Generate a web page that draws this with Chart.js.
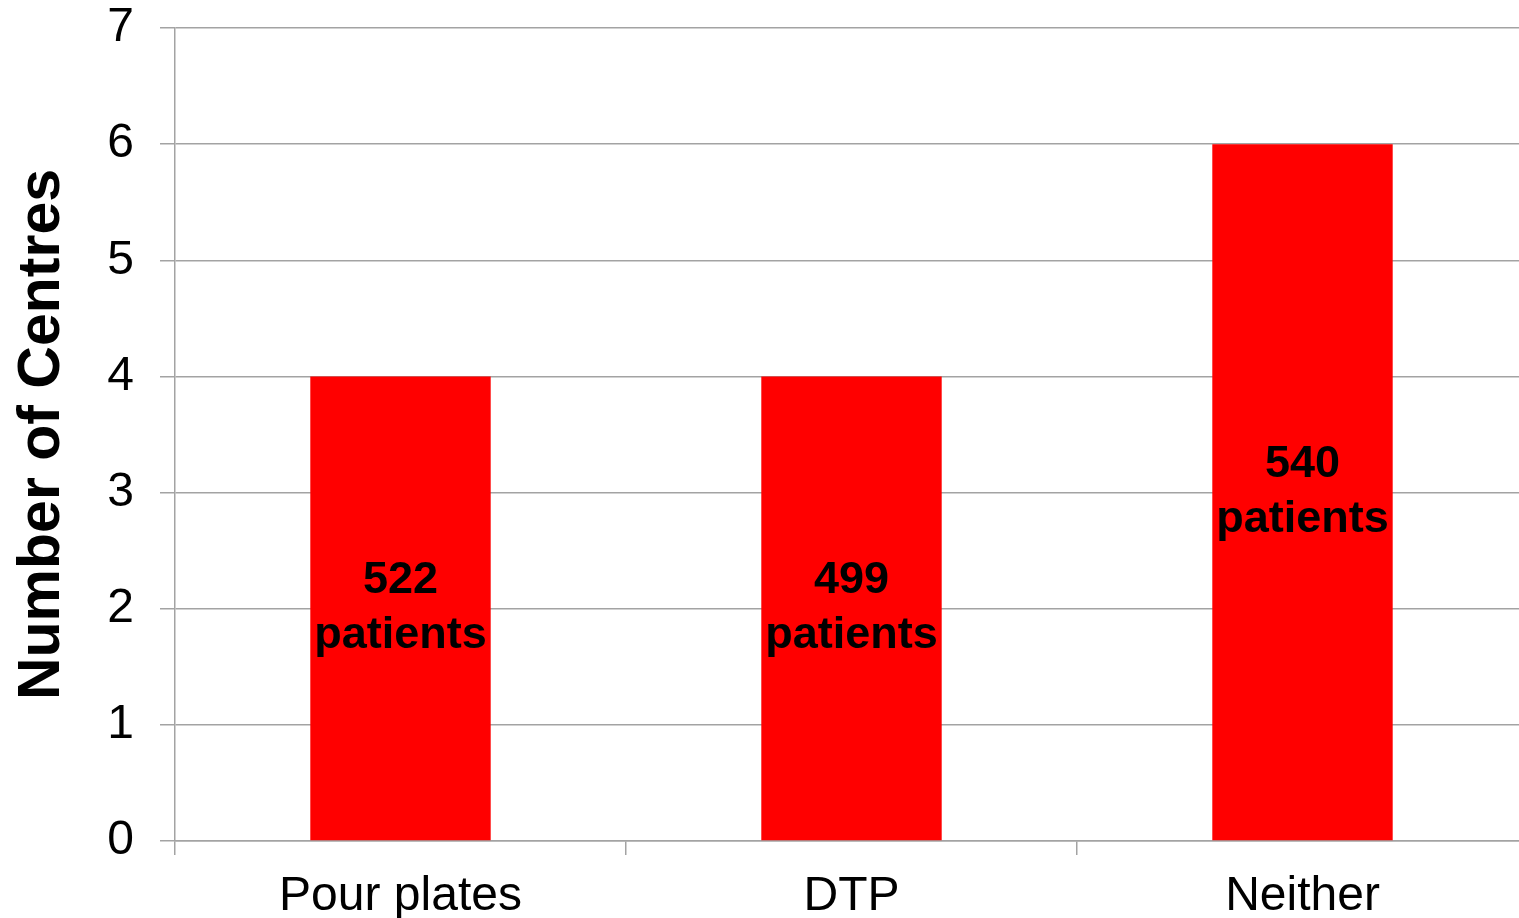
<!DOCTYPE html>
<html>
<head>
<meta charset="utf-8">
<title>Number of Centres</title>
<script src="https://cdn.jsdelivr.net/npm/chart.js@4/dist/chart.umd.min.js"></script>
<style>
  html, body { margin: 0; padding: 0; background: #ffffff; }
  /* plot runs slightly past the right edge of the frame */
  #wrap { width: 1519px; height: 918px; overflow: hidden; }
  #chart { display: block; }
</style>
</head>
<body>
<div id="wrap"><canvas id="chart" width="1528" height="918"></canvas></div>
<script>
// Categories and values
const categories = ['Pour plates', 'DTP', 'Neither'];
const centres = [4, 4, 6];
const patients = [522, 499, 540];
const yTicks = [0, 1, 2, 3, 4, 5, 6, 7];

const FONT = '"Liberation Sans", Arial, Helvetica, sans-serif';
const GRID = '#a3a3a3';

// Writes "<n> patients" in the middle of each bar
const barLabels = {
  id: 'barLabels',
  afterDatasetsDraw(chart) {
    const { ctx } = chart;
    const meta = chart.getDatasetMeta(0);
    ctx.save();
    ctx.font = 'bold 45px ' + FONT;
    ctx.fillStyle = '#000000';
    ctx.textAlign = 'center';
    ctx.textBaseline = 'middle';
    meta.data.forEach((bar, i) => {
      const cy = (bar.y + bar.base) / 2;
      const lh = 55;
      ctx.fillText(String(patients[i]), bar.x, cy - lh / 2);
      ctx.fillText('patients', bar.x, cy + lh / 2);
    });
    ctx.restore();
  }
};

new Chart(document.getElementById('chart'), {
  type: 'bar',
  data: {
    labels: categories,
    datasets: [{
      data: centres,
      backgroundColor: '#ff0000',
      borderWidth: 0,
      categoryPercentage: 1.0,
      barPercentage: 0.4
    }]
  },
  options: {
    responsive: false,
    animation: false,
    devicePixelRatio: 1,
    layout: { padding: { top: 28, right: 0, left: 0, bottom: 0 } },
    plugins: {
      legend: { display: false },
      tooltip: { enabled: false }
    },
    scales: {
      x: {
        grid: {
          display: true,
          offset: true,
          drawOnChartArea: false,
          drawTicks: true,
          tickLength: 14,
          color: GRID,
          lineWidth: 1.5
        },
        border: { display: true, color: GRID, width: 1.5 },
        ticks: {
          color: '#000000',
          font: { family: FONT, size: 48 },
          padding: 13,
          maxRotation: 0
        },
        afterFit(scale) {
          scale.height = 77;
          scale.paddingLeft = 0;
          scale.paddingRight = 0;
        }
      },
      y: {
        min: 0,
        max: 7,
        afterBuildTicks(scale) { scale.ticks = yTicks.map(v => ({ value: v })); },
        grid: {
          color: GRID,
          lineWidth: 1.5,
          drawTicks: true,
          tickLength: 15
        },
        border: { display: true, color: GRID, width: 1.5 },
        ticks: {
          color: '#000000',
          font: { family: FONT, size: 48 },
          padding: 26
        },
        title: {
          display: true,
          text: 'Number of Centres',
          color: '#000000',
          font: { family: FONT, size: 59, weight: 'bold' },
          padding: { top: 7, bottom: 0 }
        },
        afterFit(scale) {
          scale.width = 175;
          scale.paddingTop = 0;
          scale.paddingBottom = 0;
        }
      }
    }
  },
  plugins: [barLabels]
});
</script>
</body>
</html>
